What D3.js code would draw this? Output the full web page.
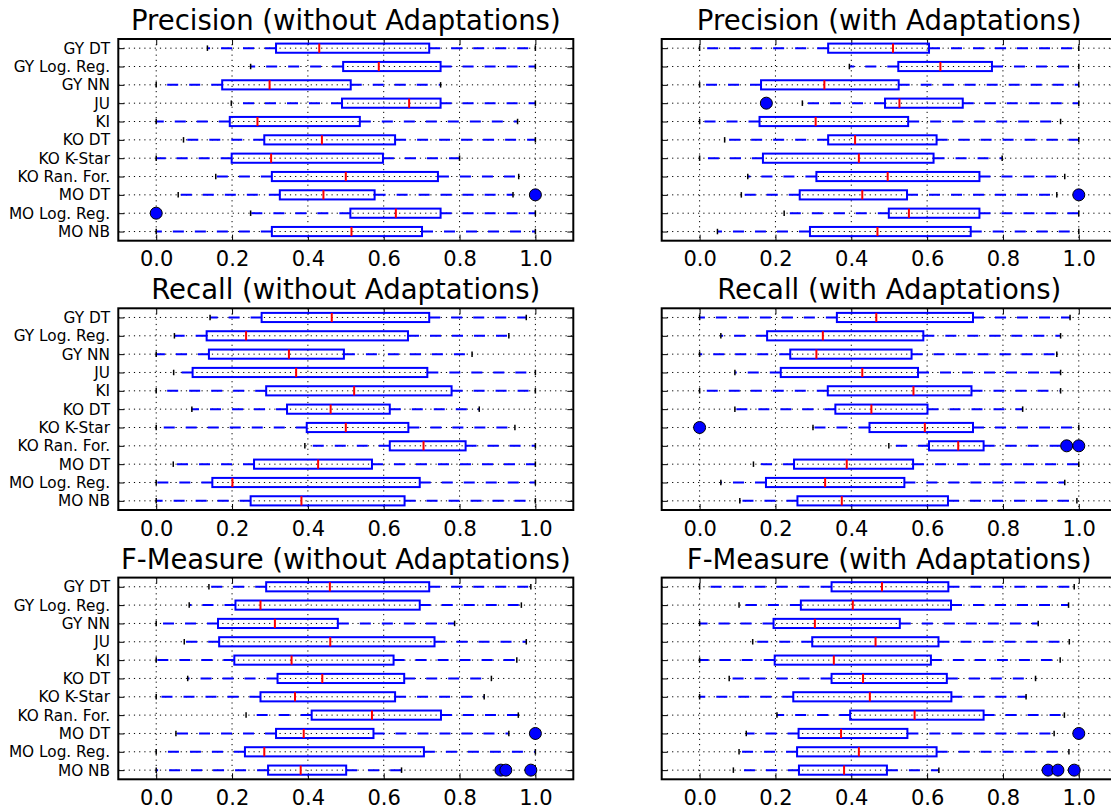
<!DOCTYPE html>
<html>
<head>
<meta charset="utf-8">
<script src="https://cdn.jsdelivr.net/npm/d3@7"></script>
<style>
  body { margin: 0; background: #fff; }
  svg { display: block; }
  text { font-family: "DejaVu Sans", sans-serif; fill: #000; }
</style>
</head>
<body>
<svg id="chart" width="1111" height="809"></svg>
<script>
// Classifier / project combinations, top to bottom
const classifiers = ["GY DT", "GY Log. Reg.", "GY NN", "JU", "KI", "KO DT",
  "KO K-Star", "KO Ran. For.", "MO DT", "MO Log. Reg.", "MO NB"];

const xTicks = [0.0, 0.2, 0.4, 0.6, 0.8, 1.0];

// Each row: [whisker low, Q1, median, Q3, whisker high]
const precisionWithout = [
  [0.135, 0.316, 0.430, 0.720, 1.000],
  [0.249, 0.493, 0.587, 0.750, 1.000],
  [0.000, 0.174, 0.299, 0.513, 0.750],
  [0.198, 0.490, 0.667, 0.750, 1.000],
  [0.000, 0.194, 0.267, 0.537, 0.953],
  [0.072, 0.285, 0.437, 0.630, 1.000],
  [0.000, 0.199, 0.303, 0.598, 0.800],
  [0.157, 0.305, 0.500, 0.743, 0.956],
  [0.058, 0.326, 0.441, 0.576, 0.941],
  [0.249, 0.512, 0.632, 0.750, 1.000],
  [0.000, 0.305, 0.515, 0.701, 1.000]
];
const precisionWithoutOutliers = [[], [], [], [], [], [], [], [], [1.0], [0.0], []];

const precisionWith = [
  [0.000, 0.339, 0.510, 0.605, 1.000],
  [0.395, 0.524, 0.635, 0.771, 1.000],
  [0.000, 0.162, 0.329, 0.525, 1.000],
  [0.271, 0.489, 0.527, 0.694, 1.000],
  [0.000, 0.158, 0.306, 0.550, 0.952],
  [0.066, 0.339, 0.410, 0.625, 1.000],
  [0.000, 0.167, 0.420, 0.617, 0.798],
  [0.127, 0.308, 0.496, 0.738, 0.963],
  [0.110, 0.264, 0.429, 0.547, 0.942],
  [0.223, 0.499, 0.552, 0.738, 1.000],
  [0.047, 0.291, 0.469, 0.715, 1.000]
];
const precisionWithOutliers = [[], [], [], [0.176], [], [], [], [], [1.0], [], []];

const recallWithout = [
  [0.142, 0.278, 0.463, 0.720, 0.976],
  [0.048, 0.133, 0.237, 0.664, 0.930],
  [0.000, 0.139, 0.350, 0.495, 0.833],
  [0.046, 0.096, 0.369, 0.715, 1.000],
  [0.000, 0.290, 0.522, 0.779, 1.000],
  [0.094, 0.345, 0.460, 0.616, 0.852],
  [0.000, 0.397, 0.500, 0.665, 0.946],
  [0.392, 0.616, 0.705, 0.816, 1.000],
  [0.045, 0.258, 0.427, 0.569, 1.000],
  [0.000, 0.148, 0.201, 0.695, 1.000],
  [0.000, 0.249, 0.383, 0.655, 1.000]
];
const recallWithoutOutliers = [[], [], [], [], [], [], [], [], [], [], []];

const recallWith = [
  [0.000, 0.362, 0.466, 0.721, 0.977],
  [0.056, 0.178, 0.325, 0.590, 0.952],
  [0.000, 0.239, 0.308, 0.559, 0.942],
  [0.093, 0.214, 0.429, 0.576, 0.952],
  [0.000, 0.338, 0.564, 0.717, 0.952],
  [0.093, 0.358, 0.453, 0.601, 0.852],
  [0.299, 0.448, 0.594, 0.721, 1.000],
  [0.499, 0.605, 0.682, 0.749, 0.955],
  [0.142, 0.249, 0.388, 0.563, 1.000],
  [0.056, 0.175, 0.331, 0.540, 0.963],
  [0.106, 0.258, 0.375, 0.655, 0.995]
];
const recallWithOutliers = [[], [], [], [], [], [], [0.0], [0.968, 1.0], [], [], []];

const fMeasureWithout = [
  [0.139, 0.290, 0.458, 0.720, 0.988],
  [0.087, 0.209, 0.275, 0.695, 0.963],
  [0.000, 0.163, 0.313, 0.479, 0.787],
  [0.074, 0.166, 0.459, 0.734, 0.976],
  [0.000, 0.206, 0.357, 0.626, 0.951],
  [0.083, 0.320, 0.438, 0.654, 0.884],
  [0.000, 0.275, 0.366, 0.630, 0.865],
  [0.237, 0.410, 0.569, 0.751, 0.955],
  [0.052, 0.316, 0.389, 0.573, 0.930],
  [0.000, 0.234, 0.285, 0.706, 1.000],
  [0.000, 0.295, 0.381, 0.501, 0.647]
];
const fMeasureWithoutOutliers = [[], [], [], [], [], [], [], [], [1.0], [], [0.909, 0.922, 0.988]];

const fMeasureWith = [
  [0.000, 0.348, 0.481, 0.656, 0.988],
  [0.104, 0.267, 0.404, 0.663, 0.973],
  [0.000, 0.195, 0.304, 0.528, 0.893],
  [0.140, 0.297, 0.464, 0.630, 0.975],
  [0.000, 0.198, 0.354, 0.610, 0.951],
  [0.078, 0.348, 0.431, 0.652, 0.886],
  [0.000, 0.247, 0.449, 0.664, 0.861],
  [0.204, 0.397, 0.567, 0.749, 0.962],
  [0.123, 0.261, 0.373, 0.548, 0.935],
  [0.104, 0.257, 0.420, 0.625, 0.974],
  [0.089, 0.262, 0.381, 0.494, 0.631]
];
const fMeasureWithOutliers = [[], [], [], [], [], [], [], [], [1.0], [], [0.919, 0.945, 0.988]];

const panels = [
  { title: "Precision (without Adaptations)", stats: precisionWithout, outliers: precisionWithoutOutliers, col: 0, row: 0 },
  { title: "Precision (with Adaptations)", stats: precisionWith, outliers: precisionWithOutliers, col: 1, row: 0 },
  { title: "Recall (without Adaptations)", stats: recallWithout, outliers: recallWithoutOutliers, col: 0, row: 1 },
  { title: "Recall (with Adaptations)", stats: recallWith, outliers: recallWithOutliers, col: 1, row: 1 },
  { title: "F-Measure (without Adaptations)", stats: fMeasureWithout, outliers: fMeasureWithoutOutliers, col: 0, row: 2 },
  { title: "F-Measure (with Adaptations)", stats: fMeasureWith, outliers: fMeasureWithOutliers, col: 1, row: 2 }
];

// Layout
const colLeft = [118.3, 661.7];
const rowTop = [39, 308.3, 577.6];
const W = 455, H = 201.7;

const BLUE = "#0000ff", RED = "#ff0000";

const svg = d3.select("#chart");

panels.forEach(p => {
  const g = svg.append("g")
    .attr("transform", `translate(${colLeft[p.col]},${rowTop[p.row]})`);

  const x = d3.scaleLinear().domain([-0.1, 1.1]).range([0, W]);
  // position 1 is the top row
  const y = d3.scaleLinear().domain([0.5, classifiers.length + 0.5]).range([0, H]);
  const unit = y(2) - y(1);
  const boxH = unit * 0.5;
  const capH = unit * 0.3;
  const positions = classifiers.map((_, i) => i + 1);

  // dotted grid
  g.append("g").selectAll("line").data(xTicks).join("line")
    .attr("x1", d => x(d)).attr("x2", d => x(d))
    .attr("y1", 0).attr("y2", H)
    .attr("stroke", "#000").attr("stroke-width", 1)
    .attr("stroke-dasharray", "1.2,4");
  g.append("g").selectAll("line").data(positions).join("line")
    .attr("x1", 0).attr("x2", W)
    .attr("y1", d => y(d)).attr("y2", d => y(d))
    .attr("stroke", "#000").attr("stroke-width", 1)
    .attr("stroke-dasharray", "1.2,4");

  // axes with inward ticks
  const axisBottom = d3.axisBottom(x).tickValues(xTicks).tickSize(-6).tickSizeOuter(0)
    .tickPadding(10.6).tickFormat(d3.format(".1f"));
  const gb = g.append("g").attr("transform", `translate(0,${H})`).call(axisBottom);
  gb.selectAll("text").style("font-size", "21px");

  g.append("g").call(d3.axisTop(x).tickValues(xTicks).tickSize(-6).tickSizeOuter(0).tickFormat(""));

  const axisLeft = d3.axisLeft(y).tickValues(positions).tickSize(-6).tickSizeOuter(0).tickPadding(8.3)
    .tickFormat(d => p.col === 0 ? classifiers[d - 1] : "");
  const gl = g.append("g").call(axisLeft);
  gl.selectAll("text").style("font-size", "15.3px");

  g.append("g").attr("transform", `translate(${W},0)`)
    .call(d3.axisRight(y).tickValues(positions).tickSize(-6).tickSizeOuter(0).tickFormat(""));

  g.selectAll(".domain").remove();
  g.selectAll(".tick line").attr("stroke", "#000").attr("stroke-width", 1);

  const rows = g.append("g").selectAll("g").data(p.stats).join("g")
    .attr("transform", (d, i) => `translate(0,${y(i + 1)})`);

  // whiskers
  rows.append("line")
    .attr("x1", d => x(d[1])).attr("x2", d => x(d[0]))
    .attr("y1", 0).attr("y2", 0)
    .attr("stroke", BLUE).attr("stroke-width", 2).attr("stroke-dasharray", "11,11");
  rows.append("line")
    .attr("x1", d => x(d[3])).attr("x2", d => x(d[4]))
    .attr("y1", 0).attr("y2", 0)
    .attr("stroke", BLUE).attr("stroke-width", 2).attr("stroke-dasharray", "11,11");

  // caps
  rows.append("line")
    .attr("x1", d => x(d[0])).attr("x2", d => x(d[0]))
    .attr("y1", -capH / 2).attr("y2", capH / 2)
    .attr("stroke", "#000").attr("stroke-width", 1.5);
  rows.append("line")
    .attr("x1", d => x(d[4])).attr("x2", d => x(d[4]))
    .attr("y1", -capH / 2).attr("y2", capH / 2)
    .attr("stroke", "#000").attr("stroke-width", 1.5);

  // boxes
  rows.append("rect")
    .attr("x", d => x(d[1])).attr("y", -boxH / 2)
    .attr("width", d => x(d[3]) - x(d[1])).attr("height", boxH)
    .attr("fill", "none").attr("stroke", BLUE).attr("stroke-width", 2);

  // medians
  rows.append("line")
    .attr("x1", d => x(d[2])).attr("x2", d => x(d[2]))
    .attr("y1", -boxH / 2).attr("y2", boxH / 2)
    .attr("stroke", RED).attr("stroke-width", 2);

  // outliers
  const fl = p.outliers.flatMap((vals, i) => vals.map(v => ({ v, pos: i + 1 })));
  g.append("g").selectAll("circle").data(fl).join("circle")
    .attr("cx", d => x(d.v)).attr("cy", d => y(d.pos)).attr("r", 6)
    .attr("fill", BLUE).attr("stroke", "#000").attr("stroke-width", 1);

  // frame
  g.append("rect").attr("width", W).attr("height", H)
    .attr("fill", "none").attr("stroke", "#000").attr("stroke-width", 2);

  // title
  g.append("text").attr("x", W / 2).attr("y", -9)
    .attr("text-anchor", "middle").style("font-size", "27.5px")
    .text(p.title);
});
</script>
</body>
</html>
